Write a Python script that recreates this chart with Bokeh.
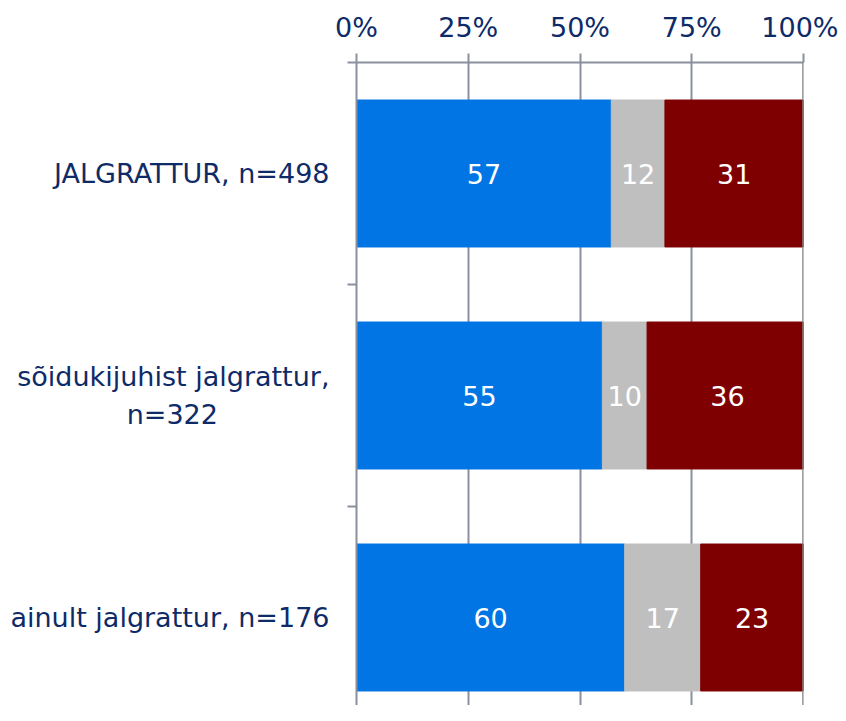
import numpy as np
from bokeh.plotting import figure
from bokeh.models import Range1d, FixedTicker, ColumnDataSource, Span
from bokeh.embed import file_html
from bokeh.resources import INLINE
from bokeh.core.properties import value

# ---- data ----
categories = ["JALGRATTUR, n=498", "sõidukijuhist jalgrattur,\nn=322", "ainult jalgrattur, n=176"]
positive = [57, 55, 60]
neutral = [12, 10, 17]
negative = [31, 36, 23]
x_ticks = [0, 25, 50, 75, 100]
x_tick_labels = ["0%", "25%", "50%", "75%", "100%"]

colors = ["#0075E3", "#BFBFBF", "#7F0000"]
FONT = "DejaVu Sans"
NAVY = "#0E2B68"
AXIS_GRAY = "#8A909E"

n = len(categories)
ypos = [n - i - 0.5 for i in range(n)]  # top to bottom

FH = 643
p = figure(frame_width=447, frame_height=FH, output_backend="svg", toolbar_location=None,
           x_axis_location="above", x_range=Range1d(0, 100),
           y_range=Range1d(3 - FH / 222, n), min_border_left=356, min_border_right=35,
           min_border_top=62, min_border_bottom=0)
p.outline_line_color = None
p.background_fill_color = "white"

series = [positive, neutral, negative]
left = np.zeros(n)
for vals, col in zip(series, colors):
    vals = np.array(vals, dtype=float)
    right = left + vals
    src = ColumnDataSource(dict(y=ypos, left=left, right=right,
                                mid=(left + right) / 2, lab=[str(int(v)) for v in vals]))
    p.hbar(y="y", left="left", right="right", height=0.662, source=src,
           fill_color=col, line_color=col, line_width=1)
    p.text(x="mid", y="y", text="lab", source=src, text_color="white",
           text_font=value(FONT), text_font_size="27px",
           text_align="center", text_baseline="middle")
    left = right

# grid
p.ygrid.visible = False
p.xgrid.ticker = FixedTicker(ticks=[25, 50, 75])
p.xgrid.grid_line_color = AXIS_GRAY
p.xgrid.grid_line_width = 2
p.add_layout(Span(location=100, dimension="height", line_color="#808080", line_width=2.5))

# top axis
xa = p.xaxis[0]
xa.ticker = FixedTicker(ticks=x_ticks)
xa.major_label_overrides = {t: l for t, l in zip(x_ticks, x_tick_labels)}
xa.major_tick_in = 0
xa.major_tick_out = 9
xa.minor_tick_out = 0
xa.minor_tick_in = 0
xa.axis_line_color = AXIS_GRAY
xa.axis_line_width = 2
xa.major_tick_line_color = AXIS_GRAY
xa.major_tick_line_width = 2
xa.major_label_text_font = FONT
xa.major_label_text_font_size = "27px"
xa.major_label_text_color = NAVY
xa.major_label_standoff = 11


def centre_lines(label):
    # right-aligned axis labels: pad shorter lines so that they appear centred
    lines = label.split("\n")
    if len(lines) == 1:
        return label
    longest = max(len(l) for l in lines)
    out = []
    for l in lines:
        pad = int(round((longest - len(l)) * 0.65))
        out.append(l + "\u00a0" * pad)
    return "\n".join(out)


ya = p.yaxis[0]
ya.ticker = FixedTicker(ticks=ypos, minor_ticks=[1, 2, 3])
ya.major_label_overrides = {y: centre_lines(c) for y, c in zip(ypos, categories)}
ya.major_tick_in = 0
ya.major_tick_out = 0
ya.minor_tick_in = 0
ya.minor_tick_out = 9
ya.minor_tick_line_color = AXIS_GRAY
ya.minor_tick_line_width = 2
ya.axis_line_color = AXIS_GRAY
ya.axis_line_width = 2
ya.major_label_text_font = FONT
ya.major_label_text_font_size = "27px"
ya.major_label_text_color = NAVY
ya.major_label_standoff = 18

open("out.html", "w").write(file_html(p, INLINE))
